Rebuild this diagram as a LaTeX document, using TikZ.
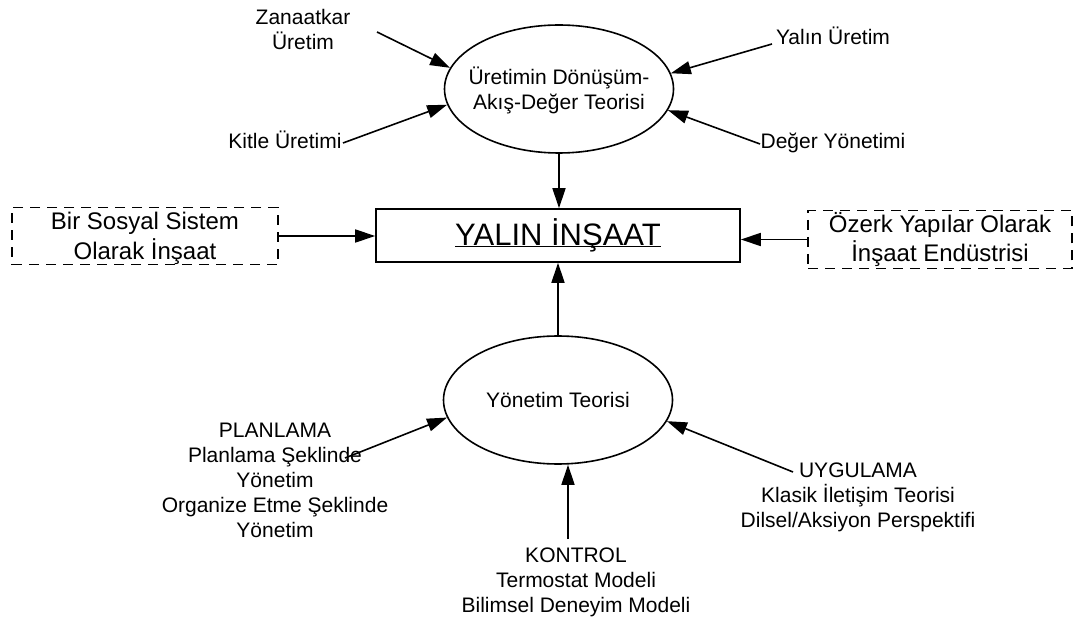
\documentclass[tikz,border=0pt]{standalone}
\usepackage{fontspec}
\setmainfont{Liberation Sans}
\usetikzlibrary{arrows.meta,shapes.geometric}
% centred stack of lines, shifted down by #1 without changing its box
\newcommand{\linestack}[2]{\raisebox{-#1}[\height][\depth]{\begin{tabular}{@{}c@{}}#2\end{tabular}}}
\begin{document}
\begin{tikzpicture}[x=1pt,y=-1pt,
  lbl/.style={font=\fontsize{21}{25}\selectfont, align=center, inner sep=0pt},
  theory/.style={draw, ellipse, line width=1.6pt, minimum width=229pt,
    minimum height=128pt, inner sep=0pt, font=\fontsize{21}{25}\selectfont},
  outer/.style={draw, dash pattern=on 10pt off 7pt, line width=1.6pt,
    minimum width=266pt, minimum height=53pt, inner sep=0pt,
    font=\fontsize{24}{28}\selectfont},
  arr/.style={line width=1.6pt, -{Triangle[length=20pt,width=13pt]}}
]
\useasboundingbox (0,0) rectangle (1073,617);

% central concept
\node[draw, line width=1.6pt, minimum width=364pt, minimum height=53pt,
  inner sep=0pt, font=\fontsize{31}{36}\selectfont] (lc) at (558,235.5)
  {\underline{YALIN \smash{İNŞAAT}}};

% the two theories
\node[theory] (flow) at (559,89)
  {\makebox[0pt]{\linestack{3pt}{Üretimin Dönüşüm-\\Akış-Değer Teorisi}}};
\node[theory] (mgmt) at (558,400) {\makebox[0pt]{Yönetim Teorisi}};

% dashed side views
\node[outer] (soc) at (145,236) {\linestack{3pt}{Bir Sosyal Sistem\\Olarak İnşaat}};
\node[outer, minimum width=264pt] (ind) at (940,239.5)
  {\linestack{2pt}{Özerk Yapılar Olarak\\İnşaat Endüstrisi}};

% labels around the theories (anchored at the baseline of their last line)
\node[lbl, anchor=base] (zan) at (303,50) {Zanaatkar\\Üretim};
\node[lbl, anchor=base] (kit) at (285,149) {Kitle Üretimi};
\node[lbl, anchor=base] (yal) at (833,45) {Yalın Üretim};
\node[lbl, anchor=base] (deg) at (833,149) {Değer Yönetimi};
\node[lbl, anchor=base] (pla) at (275,537)
  {PLANLAMA\\Planlama Şeklinde\\Yönetim\\Organize Etme Şeklinde\\Yönetim};
\node[lbl, anchor=base] (uyg) at (858,527)
  {UYGULAMA\\Klasik İletişim Teorisi\\Dilsel/Aksiyon Perspektifi};
\node[lbl, anchor=base] (kon) at (576,612)
  {KONTROL\\Termostat Modeli\\Bilimsel Deneyim Modeli};

% arrow tails
\coordinate (zanS) at (377,32);
\coordinate (kitS) at (343,143);
\coordinate (yalS) at (772,44);
\coordinate (degS) at (760,144);
\coordinate (plaS) at (345,458);
\coordinate (uygS) at (793,472);
\coordinate (konS) at (568,539);

% connectors
\draw[arr] (zanS) -- (flow.169.4);
\draw[arr] (kitS) -- (flow.188.5);
\draw[arr] (yalS) -- (flow.8.1);
\draw[arr] (degS) -- (flow.349);
\draw[arr] (plaS) -- (mgmt.189.5);
\draw[arr] (uygS) -- (mgmt.349.9);
\draw[arr] (konS) -- (konS |- mgmt.south);
\draw[arr] (flow.south) -- (flow.south |- lc.north);
\draw[arr] (mgmt.north) -- (mgmt.north |- lc.south);
\draw[arr] (soc.east) -- (soc.east -| lc.west);
\draw[arr] (ind.west) -- (ind.west -| lc.east);
\end{tikzpicture}
\end{document}
